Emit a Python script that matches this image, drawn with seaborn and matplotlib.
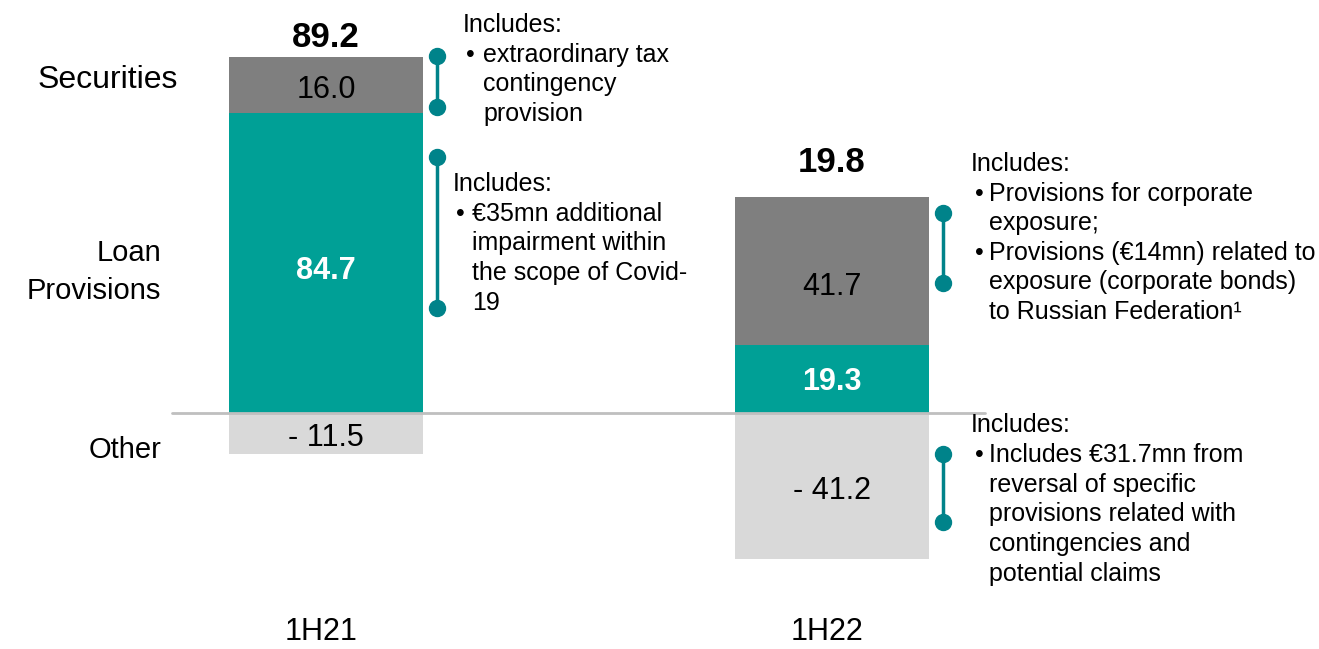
import pandas as pd
import matplotlib
matplotlib.use("Agg")
import matplotlib.pyplot as plt
import matplotlib.transforms as mtransforms
import seaborn as sns

# Data
periods = ["1H21", "1H22"]
loan_provisions = [84.7, 19.3]
securities = [16.0, 41.7]
other = [-11.5, -41.2]
totals = [89.2, 19.8]
row_labels = ["Securities", "Loan\nProvisions", "Other"]

# Notes next to the bars: (text lines, bar index, bracket span in data units)
notes = [
    (["extraordinary tax", "contingency", "provision"], 0, (100.8, 86.4)),
    (["€35mn additional", "impairment within", "the scope of Covid-", "19"], 0, (72.3, 29.7)),
    (["Provisions for corporate", "exposure;", "Provisions (€14mn) related to",
      "exposure (corporate bonds)", "to Russian Federation¹"], 1, (56.5, 36.7)),
    (["Includes €31.7mn from", "reversal of specific", "provisions related with",
      "contingencies and", "potential claims"], 1, (-11.6, -30.8)),
]

teal = "#00A096"
dark_gray = "#7F7F7F"
light_gray = "#D9D9D9"
bracket_color = "#00838A"

sns.set_style("white")
plt.rcParams["font.family"] = ["Liberation Sans", "DejaVu Sans"]
plt.rcParams["text.color"] = "black"

W, H = 1319, 649
fig = plt.figure(figsize=(W / 100, H / 100), dpi=100)
ax = fig.add_axes([0, 0, 1, 1])

df = pd.DataFrame({
    "period": periods,
    "loan": loan_provisions,
    "loan_sec": [l + s for l, s in zip(loan_provisions, securities)],
    "other": other,
})

bar_w = 0.383
common = dict(x="period", order=periods, width=bar_w, saturation=1,
              errorbar=None, linewidth=0, ax=ax)
sns.barplot(data=df, y="loan_sec", color=dark_gray, **common)
sns.barplot(data=df, y="loan", color=teal, **common)
sns.barplot(data=df, y="other", color=light_gray, **common)

ax.set_xlim(-326 / 506, 1 + (W - 832) / 506)
ax.set_ylim(-(H - 413) / 3.54, 413 / 3.54)
ax.axis("off")

# baseline
ax.axhline(0, xmin=172 / W, xmax=985 / W, color="#BFBFBF", lw=2, zorder=5)


def fx(px):
    return px / W


def fy(py):
    return 1 - py / H


# segment labels
sec_offsets = [-5, -16]
loan_offsets = [-8, -3]
for i in range(len(periods)):
    ax.annotate(f"{securities[i]:.1f}", (i, loan_provisions[i] + securities[i] / 2),
                xytext=(0, sec_offsets[i]), textcoords="offset pixels",
                ha="center", va="center", fontsize=22, color="black")
    ax.annotate(f"{loan_provisions[i]:.1f}", (i, loan_provisions[i] / 2),
                xytext=(0, loan_offsets[i]), textcoords="offset pixels",
                ha="center", va="center", fontsize=22, color="white", fontweight="bold")
    ax.annotate(f"- {abs(other[i]):.1f}", (i, other[i] / 2),
                xytext=(0, -5), textcoords="offset pixels",
                ha="center", va="center", fontsize=22, color="black")

# totals above the bars
total_offsets = [3, 18]
for i in range(len(periods)):
    top = loan_provisions[i] + securities[i]
    ax.annotate(f"{totals[i]:.1f}", (i, top), xytext=(0, total_offsets[i]),
                textcoords="offset pixels", ha="center", va="bottom",
                fontsize=25, fontweight="bold")

# category labels
trans = mtransforms.blended_transform_factory(ax.transData, fig.transFigure)
for i, p in enumerate(periods):
    ax.text(i - 0.01, fy(632), p, transform=trans, ha="center", va="center", fontsize=22)

# row labels
fig.text(fx(178), fy(80), row_labels[0], ha="right", va="center", fontsize=23)
fig.text(fx(161), fy(272), row_labels[1], ha="right", va="center", fontsize=21,
         linespacing=1.45)
fig.text(fx(161), fy(450), row_labels[2], ha="right", va="center", fontsize=21)

# brackets and notes
note_pos = [  # (x of "Includes:", x of bullet, x of text, y of "Includes:", line step)
    (463, 466, 483, 25, 29.7),
    (453, 456, 472, 184, 29.7),
    (971, 975, 989, 164, 29.6),
    (971, 975, 989, 425, 29.8),
]
bullet_lines = [[0], [0], [0, 2], [0]]
for k, (lines, bar_i, span) in enumerate(notes):
    bx = bar_i + bar_w / 2 + 0.028
    ax.plot([bx, bx], span, color=bracket_color, lw=2.5, zorder=6,
            marker="o", markersize=11.5, solid_capstyle="butt")
    x_inc, x_bul, x_txt, y0, step = note_pos[k]
    fig.text(fx(x_inc), fy(y0), "Includes:", ha="left", va="center", fontsize=18)
    for j, line in enumerate(lines):
        y = y0 + step * (j + 1)
        if j in bullet_lines[k]:
            fig.text(fx(x_bul), fy(y), "•", ha="left", va="center", fontsize=18)
        fig.text(fx(x_txt), fy(y), line, ha="left", va="center", fontsize=18)

fig.savefig("out.png", dpi=100)
